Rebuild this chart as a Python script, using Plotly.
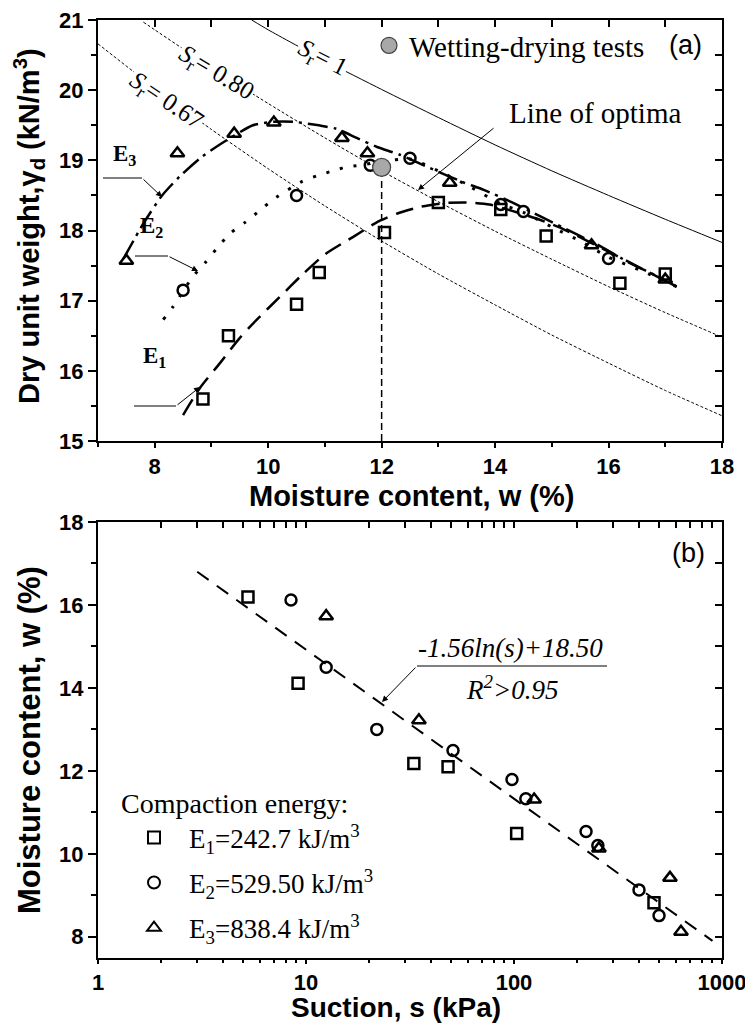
import plotly.graph_objects as go

# page body has an 8px margin: figure is sized to fill the rest of the window
OFF = 8
W, H = 753 - OFF, 1024 - OFF
SERIF = "Liberation Serif, Times New Roman, serif"
SANS = "Liberation Sans, Arial, sans-serif"

def px(x):
    return (x - OFF) / W

def py(y):
    return 1 - (y - OFF) / H

# ---------------- Panel (a) data ----------------
w_E1 = [8.85, 9.3, 10.5, 10.9, 12.05, 13.0, 14.1, 14.9, 16.2, 17.0]
gd_E1 = [15.6, 16.5, 16.95, 17.4, 17.97, 18.4, 18.3, 17.92, 17.25, 17.38]
w_E2 = [8.5, 10.5, 11.8, 12.5, 14.1, 14.5, 16.0]
gd_E2 = [17.15, 18.5, 18.93, 19.03, 18.37, 18.27, 17.6]
w_E3 = [7.5, 8.4, 9.4, 10.1, 11.3, 11.75, 13.2, 15.7, 17.0]
gd_E3 = [17.57, 19.1, 19.38, 19.54, 19.32, 19.1, 18.68, 17.79, 17.3]

# fitted compaction curves
fw_E1 = [8.5, 8.8, 9.15, 9.5, 9.8, 10.2, 10.6, 11.0, 11.5, 11.9, 12.3, 12.7, 13.1, 13.5, 13.9, 14.3, 14.8, 15.2, 16.0, 16.6, 17.2]
fg_E1 = [15.37, 15.76, 16.11, 16.47, 16.73, 17.05, 17.37, 17.66, 17.91, 18.11, 18.25, 18.34, 18.39, 18.4, 18.37, 18.28, 18.15, 18.02, 17.7, 17.45, 17.2]
fw_E2 = [8.15, 8.32, 8.67, 8.89, 9.1, 9.33, 9.6, 9.86, 10.1, 10.6, 10.86, 11.1, 11.35, 11.62, 12.0, 12.5, 13.0, 13.5, 14.1, 14.5, 15.0, 15.5, 16.0, 16.6, 17.2]
fg_E2 = [16.73, 16.91, 17.34, 17.54, 17.75, 17.96, 18.12, 18.29, 18.45, 18.7, 18.78, 18.84, 18.9, 18.93, 18.98, 19.02, 18.85, 18.65, 18.38, 18.26, 18.05, 17.85, 17.62, 17.42, 17.2]
fw_E3 = [7.45, 7.8, 8.13, 8.44, 8.8, 9.1, 9.73, 10.1, 10.44, 10.8, 11.2, 11.56, 11.92, 12.32, 12.85, 13.43, 13.8, 14.3, 14.8, 15.2, 15.8, 16.37, 16.8, 17.2]
fg_E3 = [17.6, 18.1, 18.5, 18.77, 19.03, 19.2, 19.5, 19.55, 19.55, 19.51, 19.45, 19.32, 19.19, 19.08, 18.89, 18.69, 18.58, 18.4, 18.2, 18.04, 17.8, 17.54, 17.37, 17.2]

# saturation lines
sw_100 = [9.71, 10, 11, 12, 13, 14, 15, 16, 17, 18]
sg_100 = [21.0, 20.86, 20.42, 20.01, 19.61, 19.22, 18.85, 18.50, 18.16, 17.83]
sw_80 = [7.8, 8, 9, 10, 11, 12, 13, 14, 15, 16, 17, 18]
sg_80 = [20.97, 20.86, 20.32, 19.81, 19.32, 18.85, 18.41, 17.99, 17.59, 17.20, 16.83, 16.48]
sw_67 = [7, 8, 9, 10, 11, 12, 13, 14, 15, 16, 17, 18]
sg_67 = [20.66, 20.03, 19.44, 18.88, 18.35, 17.85, 17.38, 16.94, 16.51, 16.11, 15.72, 15.36]

w_wd = [12.0]
gd_wd = [18.9]

# ---------------- Panel (b) data ----------------
s_E1 = [5.26, 9.16, 33.0, 48.2, 103, 471]
m_E1 = [16.19, 14.11, 12.18, 12.1, 10.49, 8.82]
s_E2 = [8.47, 12.5, 21.9, 50.9, 97.8, 114, 222, 253, 399, 498]
m_E2 = [16.12, 14.5, 13.0, 12.49, 11.79, 11.33, 10.54, 10.2, 9.13, 8.51]
s_E3 = [12.5, 34.9, 125, 256, 562, 635]
m_E3 = [15.73, 13.22, 11.31, 10.13, 9.42, 8.12]
s_fit = [3, 900]
m_fit = [16.8, 7.9]

names = ["E<sub>1</sub>=242.7 kJ/m<sup>3</sup>",
         "E<sub>2</sub>=529.50 kJ/m<sup>3</sup>",
         "E<sub>3</sub>=838.4 kJ/m<sup>3</sup>"]

fig = go.Figure()

def line(x, y, dash, width, xa="x", ya="y", shape="spline"):
    fig.add_trace(go.Scatter(x=x, y=y, mode="lines", xaxis=xa, yaxis=ya,
                             line=dict(color="black", width=width, dash=dash, shape=shape, smoothing=0.6),
                             showlegend=False, hoverinfo="skip"))

# saturation lines
line(sw_100, sg_100, "solid", 1)
line(sw_80, sg_80, "3px,2px", 1)
line(sw_67, sg_67, "3px,2px", 1)
# vertical line at optimum
line([w_wd[0], w_wd[0]], [15, gd_wd[0]], "7px,4px", 1.5, shape="linear")
# fitted curves
line(fw_E1, fg_E1, "18px,9px", 2.5)
line(fw_E2, fg_E2, "3px,11px", 3)
line(fw_E3, fg_E3, "20px,6px,3px,6px", 2.5)

syms = ["square-open", "circle-open", "triangle-up-open"]
for (xx, yy), sym in zip([(w_E1, gd_E1), (w_E2, gd_E2), (w_E3, gd_E3)], syms):
    fig.add_trace(go.Scatter(x=xx, y=yy, mode="markers", xaxis="x", yaxis="y",
                             marker=dict(symbol=sym, size=12 if "tri" in sym else 11,
                                         color="black", line=dict(color="black", width=2.5)),
                             showlegend=False, hoverinfo="skip"))

fig.add_trace(go.Scatter(x=w_wd, y=gd_wd, mode="markers", xaxis="x", yaxis="y",
                         marker=dict(symbol="circle", size=18, color="#a8a8a8",
                                     line=dict(color="#444444", width=1.2)),
                         name="Wetting-drying tests", legend="legend2", showlegend=True))

# panel (b)
line(s_fit, m_fit, "14px,10px", 2, xa="x2", ya="y2", shape="linear")
for i, ((xx, yy), sym) in enumerate(zip([(s_E1, m_E1), (s_E2, m_E2), (s_E3, m_E3)], syms)):
    fig.add_trace(go.Scatter(x=xx, y=yy, mode="markers", xaxis="x2", yaxis="y2",
                             marker=dict(symbol=sym, size=12 if "tri" in sym else 11,
                                         color="black", line=dict(color="black", width=2.5)),
                             name=names[i], legendgroup="g%d" % i, showlegend=True, hoverinfo="skip"))

# ---------------- axes ----------------
dx = [px(98), px(722)]
dya = [py(441), py(20)]
dyb = [py(957.5), py(522)]
tickfont = dict(family=SANS, size=22, color="black", weight="bold")
base = dict(showline=True, linewidth=2, linecolor="black", mirror=True, showgrid=False,
            zeroline=False, ticks="outside", tickwidth=2, ticklen=8, tickcolor="black",
            tickfont=tickfont, automargin=False, ticklabeloverflow="allow")
inner = dict(showline=False, showgrid=False, zeroline=False, ticks="inside", tickwidth=2,
             ticklen=7, tickcolor="black", showticklabels=False, automargin=False)
minor_x = dict(ticks="outside", ticklen=4, tickwidth=2, tickcolor="black")
minor_y = dict(ticks="outside", ticklen=5, tickwidth=2, tickcolor="black")

fig.update_layout(
    xaxis=dict(base, domain=dx, anchor="y", range=[7, 18], tickvals=[8, 10, 12, 14, 16, 18], ticklen=5,
               minor=dict(minor_x, dtick=1, tick0=7)),
    yaxis=dict(base, domain=dya, anchor="x", range=[15, 21], dtick=1,
               minor=dict(minor_y, dtick=0.5, tick0=15)),
    xaxis3=dict(inner, overlaying="x", anchor="y", side="top", range=[7, 18], dtick=1, tick0=7),
    yaxis3=dict(inner, overlaying="y", anchor="x", side="right", range=[15, 21], dtick=0.5, tick0=15),
    xaxis2=dict(base, domain=dx, anchor="y2", type="log", range=[0, 3], ticklen=4,
                tickvals=[1, 10, 100, 1000], ticktext=["1", "10", "100", "1000"],
                minor=dict(minor_x, ticklen=3, tickvals=[k * 10 ** d for d in range(3) for k in range(2, 10)])),
    yaxis2=dict(base, domain=dyb, anchor="x2", range=[7.5, 18], tickvals=[8, 10, 12, 14, 16, 18],
                minor=dict(minor_y, dtick=1, tick0=7)),
    xaxis4=dict(inner, overlaying="x2", anchor="y2", side="top", type="log", range=[0, 3],
                tickvals=[k * 10 ** d for d in range(3) for k in range(1, 10)] + [1000], ticklen=6),
    yaxis4=dict(inner, overlaying="y2", anchor="x2", side="right", range=[7.5, 18], dtick=1, tick0=7),
)
# invisible traces so overlay axes render
for xa, ya, xr, yr in [("x3", "y3", [7, 18], [15, 21]), ("x4", "y4", [1, 1000], [7.5, 18])]:
    fig.add_trace(go.Scatter(x=xr, y=yr, xaxis=xa, yaxis=ya, mode="markers",
                             marker=dict(opacity=0), showlegend=False, hoverinfo="skip"))

fig.update_layout(
    width=W, height=H, margin=dict(l=0, r=0, t=0, b=0),
    paper_bgcolor="white", plot_bgcolor="white", template=None,
    legend=dict(x=px(119), y=py(777), xanchor="left", yanchor="top",
                title=dict(text="Compaction energy:", font=dict(family=SERIF, size=28, color="black")),
                font=dict(family=SERIF, size=27, color="black"), bgcolor="rgba(0,0,0,0)",
                tracegroupgap=7, itemsizing="constant", itemwidth=60),
    legend2=dict(x=px(369), y=py(20), xanchor="left", yanchor="top",
                 font=dict(family=SERIF, size=29, color="black"), bgcolor="rgba(0,0,0,0)"),
)

ann = []
def text(x, y, t, size, family=SERIF, angle=0, bg=None, **kw):
    d = dict(x=px(x), y=py(y), xref="paper", yref="paper", text=t, showarrow=False,
             font=dict(family=family, size=size, color="black"), textangle=angle,
             xanchor="center", yanchor="middle")
    if bg:
        d["bgcolor"] = bg
    d.update(kw)
    ann.append(d)

def arrow(x0, y0, x1, y1, width=1):
    ann.append(dict(x=px(x1), y=py(y1), xref="paper", yref="paper", ax=x0 - x1, ay=y0 - y1,
                    axref="pixel", ayref="pixel", text="", showarrow=True, arrowhead=2,
                    arrowsize=1.2, arrowwidth=width, arrowcolor="black"))

# axis titles
text(29, 226, "<b>Dry unit weight,γ<sub>d</sub> (kN/m<sup>3</sup>)</b>", 29, SANS, angle=-90)
text(411, 496, "<b>Moisture content, w (%)</b>", 29, SANS)
text(29, 740, "<b>Moisture content, w (%)</b>", 31, SANS, angle=-90)
text(396, 1007, "<b>Suction, s (kPa)</b>", 28, SANS)
text(685, 45, "(a)", 27, SANS)
text(688, 553, "(b)", 27, SANS)

# saturation labels
text(322, 58, "<i>S</i><sub>r</sub>= 1", 25, SERIF, angle=27, bg="white")
text(216, 73, "<i>S</i><sub>r</sub>= 0.80", 25, SERIF, angle=31, bg="white")
text(166, 101, "<i>S</i><sub>r</sub>= 0.67", 25, SERIF, angle=34, bg="white")

# energy labels
text(124, 155, "<b>E<sub>3</sub></b>", 23, SERIF)
text(151, 227, "<b>E<sub>2</sub></b>", 23, SERIF)
text(154, 357, "<b>E<sub>1</sub></b>", 23, SERIF)

shapes = []
def seg(x0, y0, x1, y1, width=1):
    shapes.append(dict(type="line", xref="paper", yref="paper", x0=px(x0), y0=py(y0),
                       x1=px(x1), y1=py(y1), line=dict(color="black", width=width)))

seg(103, 178, 142, 178); arrow(142, 178, 162, 197)
seg(135, 256, 168, 256); arrow(168, 256, 198, 271)
seg(134, 406, 176, 406); arrow(176, 406, 200, 387)

# line of optima
text(595, 113, "Line of optima", 29, SERIF)
arrow(495, 127, 418, 190)

# fit equation
text(510, 648, "<i>-1.56ln(s)+18.50</i>", 27, SERIF)
text(512, 688, "<i>R<sup>2</sup>&gt;0.95</i>", 27, SERIF)
seg(417, 666, 607, 666)
arrow(417, 666, 382, 702)

fig.update_layout(annotations=ann, shapes=shapes)
fig.write_html("out.html")
